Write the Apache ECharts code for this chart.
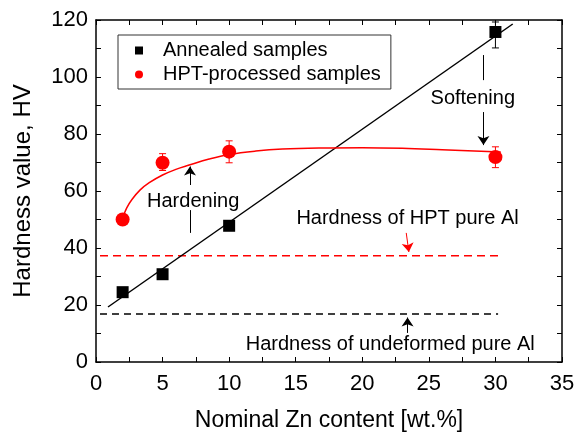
<!DOCTYPE html>
<html><head><meta charset="utf-8">
<script src="https://cdn.jsdelivr.net/npm/echarts@6/dist/echarts.min.js"></script>
<style>html,body{margin:0;padding:0;background:#fff}#c{width:576px;height:437px}</style>
</head><body><div id="c"></div>
<script>
const FONT = 'Liberation Sans, Arial, sans-serif';
// Annealed samples [Zn wt.%, HV]
const annealed = [[2, 24.5], [5, 30.8], [10, 47.8], [30, 115.8]];
const annealedErr = [[10, 46.2, 49.6], [30, 110.2, 119.3]];
// HPT-processed samples
const hpt = [[2, 50], [5, 69.9], [10, 73.8], [30, 71.9]];
const hptErr = [[2, 48.8, 51.2], [5, 67.2, 73.1], [10, 69.9, 77.6], [30, 68.2, 75.5]];
// linear fit of annealed data (end points)
const annealedFit = [[0.9, 19.3], [31.3, 118.6]];
// fitted curve of HPT data
const hptFit = [[2, 50.5], [2.3, 54], [2.7, 57], [3.3, 60.3], [4, 62.9], [5, 65.6], [6, 67.6], [7, 69.1],
  [8.5, 71.2], [10, 72.8], [12, 74], [14, 74.7], [17, 75.1], [20, 75.2], [23, 75], [26, 74.5], [30.4, 73.7]];
// reference levels
const hptPureAl = [[0.3, 37.3], [30.2, 37.3]];
const undeformedAl = [[0.3, 16.8], [30.2, 16.8]];
// annotation texts [x, y, text, color]
const notes = [
  [28.3, 92.6, 'Softening', '#000'],
  [7.3, 56.4, 'Hardening', '#000'],
  [23.4, 50.5, 'Hardness of HPT pure Al', '#000'],
  [22.1, 6.0, 'Hardness of undeformed pure Al', '#000']
];
// arrows / segments [[x1,y1],[x2,y2], color, arrow?]
const arrows = [
  [[29.1, 107.7], [29.1, 98.9], '#000', false],
  [[29.1, 87.7], [29.1, 76.1], '#000', true],
  [[7.06, 62.1], [7.06, 68.6], '#000', true],
  [[7.06, 53.3], [7.06, 45.3], '#000', false],
  [[23.3, 45.3], [23.5, 38.6], '#ff0000', true],
  [[23.4, 10.2], [23.4, 15.6], '#000', true]
];
const xTicks = [0, 35, 5];
const yTicks = [0, 120, 20];

const chart = echarts.init(document.getElementById('c'));
const axisCommon = {
  axisLine: {show: true, onZero: false, lineStyle: {color: '#000', width: 1.5}},
  axisTick: {show: true, inside: true, length: 5, lineStyle: {color: '#000', width: 1}},
  minorTick: {show: true, splitNumber: 2, length: 5, lineStyle: {color: '#000', width: 1}},
  splitLine: {show: false}
};
function errRender(color) {
  return function (params, api) {
    const x = api.value(0);
    const lo = api.coord([x, api.value(1)]);
    const hi = api.coord([x, api.value(2)]);
    const w = 3.5;
    const st = {stroke: color, lineWidth: 1};
    return {type: 'group', children: [
      {type: 'line', shape: {x1: lo[0], y1: lo[1], x2: hi[0], y2: hi[1]}, style: st},
      {type: 'line', shape: {x1: lo[0] - w, y1: lo[1], x2: lo[0] + w, y2: lo[1]}, style: st},
      {type: 'line', shape: {x1: hi[0] - w, y1: hi[1], x2: hi[0] + w, y2: hi[1]}, style: st}
    ]};
  };
}
chart.setOption({
  animation: false,
  textStyle: {fontFamily: FONT},
  grid: {left: 96, right: 14, top: 20, bottom: 75, containLabel: false, outerBoundsMode: 'none'},
  legend: {
    left: 118, top: 35, orient: 'vertical',
    padding: [4, 10, 3, 17], itemGap: 1,
    itemWidth: 8, itemHeight: 8,
    borderColor: '#333', borderWidth: 1,
    textStyle: {fontSize: 20, color: '#000', fontFamily: FONT, lineHeight: 23, padding: [0, 0, 0, 15]},
    data: [{name: 'Annealed samples', icon: 'rect'}, {name: 'HPT-processed samples', icon: 'circle'}]
  },
  xAxis: [
    Object.assign({type: 'value', min: xTicks[0], max: xTicks[1], interval: xTicks[2], position: 'bottom',
      name: 'Nominal Zn content [wt.%]', nameLocation: 'middle', nameGap: 47,
      nameTextStyle: {fontSize: 23, color: '#000', fontFamily: FONT},
      axisLabel: {fontSize: 22, color: '#000', margin: 11, fontFamily: FONT}}, axisCommon),
    Object.assign({type: 'value', min: xTicks[0], max: xTicks[1], interval: xTicks[2], position: 'top',
      axisLabel: {show: false}}, axisCommon)
  ],
  yAxis: [
    Object.assign({type: 'value', min: yTicks[0], max: yTicks[1], interval: yTicks[2], position: 'left',
      name: 'Hardness value, HV', nameLocation: 'middle', nameGap: 61,
      nameTextStyle: {fontSize: 24, color: '#000', fontFamily: FONT},
      axisLabel: {fontSize: 22, color: '#000', margin: 8, fontFamily: FONT}}, axisCommon),
    Object.assign({type: 'value', min: yTicks[0], max: yTicks[1], interval: yTicks[2], position: 'right',
      axisLabel: {show: false}}, axisCommon)
  ],
  series: [
    {type: 'line', data: hptPureAl, symbol: 'none', silent: true, z: 1,
      lineStyle: {color: '#ff0000', width: 1.5, type: [8, 5]}},
    {type: 'line', data: undeformedAl, symbol: 'none', silent: true, z: 1,
      lineStyle: {color: '#000', width: 1.5, type: [7, 5]}},
    {type: 'line', data: annealedFit, symbol: 'none', silent: true, z: 2,
      lineStyle: {color: '#000', width: 1.5}},
    {type: 'line', data: hptFit, symbol: 'none', smooth: 0.4, silent: true, z: 2,
      lineStyle: {color: '#ff0000', width: 1.5}},
    {type: 'custom', data: annealedErr, renderItem: errRender('#000'), z: 3, silent: true},
    {type: 'custom', data: hptErr, renderItem: errRender('#ff0000'), z: 3, silent: true},
    {name: 'Annealed samples', type: 'scatter', data: annealed, symbol: 'rect', symbolSize: 12, z: 4,
      itemStyle: {color: '#000', opacity: 1}},
    {name: 'HPT-processed samples', type: 'scatter', data: hpt, symbol: 'circle', symbolSize: 14, z: 4,
      itemStyle: {color: '#ff0000', opacity: 1}},
    {type: 'custom', data: notes, silent: true, z: 5,
      renderItem: function (params, api) {
        const p = api.coord([api.value(0), api.value(1)]);
        const d = notes[params.dataIndex];
        return {type: 'text', x: p[0], y: p[1], style: {text: d[2], fill: d[3], fontSize: 20, fontFamily: FONT,
          align: 'center', verticalAlign: 'middle'}};
      }},
    {type: 'line', data: [], silent: true, z: 5,
      markLine: {silent: true, animation: false, label: {show: false}, symbolSize: 9,
        data: arrows.map(a => [
          {coord: a[0], symbol: 'none', lineStyle: {color: a[2], width: 1, type: 'solid'}},
          {coord: a[1], symbol: a[3] ? 'arrow' : 'none'}
        ])}}
  ]
});
</script></body></html>
